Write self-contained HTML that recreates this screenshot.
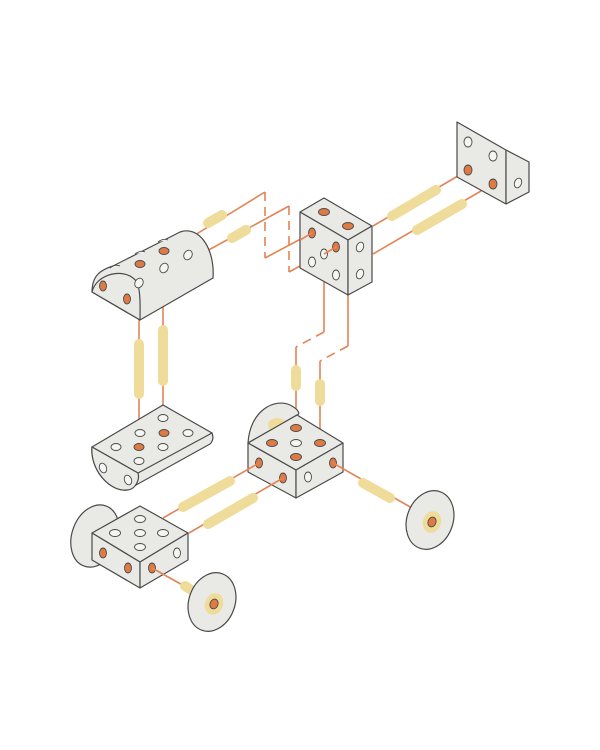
<!DOCTYPE html>
<html><head><meta charset="utf-8"><style>html,body{margin:0;padding:0;background:#fff}svg{display:block}</style></head>
<body>
<svg width="600" height="750" viewBox="0 0 600 750" xmlns="http://www.w3.org/2000/svg">
<defs>
<style>
.b{fill:#e9e9e5;stroke:#4a4a4a;stroke-width:1.2;stroke-linejoin:round}
.o{fill:#e07a45;stroke:#4a4a4a;stroke-width:0.9}
.h{fill:#f5f5f2;stroke:#4a4a4a;stroke-width:0.9}
.l{stroke:#e38455;stroke-width:1.6;fill:none}
.d{stroke:#e38455;stroke-width:1.6;fill:none;stroke-dasharray:9 6}
.p{stroke:#f0dc9a;stroke-width:10;stroke-linecap:round;fill:none}
</style>
</defs>

<line class="l" x1="373" y1="226" x2="468" y2="170"/>
<line class="l" x1="373" y1="254" x2="493" y2="184"/>
<line class="p" x1="392" y1="216" x2="436" y2="190"/>
<line class="p" x1="417" y1="230" x2="462" y2="204"/>

<line class="l" x1="190" y1="238" x2="265" y2="192"/>
<line class="d" x1="265" y1="192" x2="265" y2="258"/>
<line class="l" x1="265" y1="258" x2="312" y2="233"/>
<line class="l" x1="205" y1="252" x2="289" y2="206"/>
<line class="d" x1="289" y1="206" x2="289" y2="272"/>
<line class="l" x1="289" y1="272" x2="336" y2="246"/>
<line class="p" x1="208" y1="223" x2="222" y2="215"/>
<line class="p" x1="232" y1="238" x2="246" y2="230"/>

<polyline class="l" points="324,282 324,332"/>
<line class="d" x1="324" y1="332" x2="296" y2="347"/>
<line class="l" x1="296" y1="347" x2="296" y2="428"/>
<polyline class="l" points="348,295 348,346"/>
<line class="d" x1="348" y1="346" x2="320" y2="361"/>
<line class="l" x1="320" y1="361" x2="320" y2="443"/>
<line class="p" x1="296" y1="370" x2="296" y2="386"/>
<line class="p" x1="320" y1="384" x2="320" y2="401"/>

<line class="l" x1="139" y1="315" x2="139" y2="447"/>
<line class="l" x1="163" y1="300" x2="163" y2="433"/>
<line class="p" x1="139" y1="344" x2="139" y2="394"/>
<line class="p" x1="163" y1="330" x2="163" y2="381"/>

<polygon class="b" points="457,122 506,150 506,204 457,177"/>
<polygon class="b" points="506,150 529,162 529,192 506,204"/>
<ellipse class="h" cx="468" cy="142" rx="4" ry="5"/>
<ellipse class="h" cx="493" cy="156" rx="4" ry="5"/>
<ellipse class="o" cx="468" cy="170" rx="4" ry="5"/>
<ellipse class="o" cx="493" cy="184" rx="4" ry="5"/>
<ellipse class="h" cx="518" cy="183" rx="3.5" ry="5" transform="rotate(20 518 183)"/>

<polygon class="b" points="300,212 324,198 372,226 348,240"/>
<polygon class="b" points="300,212 348,240 348,295 300,268"/>
<polygon class="b" points="348,240 372,226 372,282 348,295"/>
<ellipse class="o" cx="324" cy="212" rx="5.5" ry="3.5"/>
<ellipse class="o" cx="348" cy="226" rx="5.5" ry="3.5"/>
<ellipse class="o" cx="312" cy="233" rx="3.5" ry="5"/>
<ellipse class="o" cx="336" cy="247" rx="3.5" ry="5"/>
<ellipse class="h" cx="312" cy="262" rx="3.5" ry="5"/>
<ellipse class="h" cx="324" cy="254" rx="3.5" ry="5"/>
<ellipse class="h" cx="336" cy="275" rx="3.5" ry="5"/>
<ellipse class="h" cx="360" cy="247" rx="3.5" ry="5" transform="rotate(20 360 247)"/>
<ellipse class="h" cx="360" cy="274" rx="3.5" ry="5" transform="rotate(20 360 274)"/>
<line class="l" x1="312" y1="233" x2="300" y2="240"/>
<line class="l" x1="336" y1="247" x2="324" y2="254"/>

<!-- half cylinder top left -->
<path class="b" d="M92,292 C92,276 100,270 113,266 L180,232 C200,225 215,250 213,278 L140,320 Z"/>
<path class="b" d="M92,292 C96,274 125,266 137,282 C141,292 140,310 140,320 Z"/>
<ellipse class="o" cx="103" cy="286" rx="3.5" ry="5"/>
<ellipse class="o" cx="127" cy="299" rx="3.5" ry="5"/>
<ellipse class="o" cx="140" cy="264" rx="5" ry="3.5"/>
<ellipse class="o" cx="164" cy="251" rx="5" ry="3.5"/>
<ellipse class="h" cx="139" cy="283" rx="4" ry="5" transform="rotate(30 139 283)"/>
<ellipse class="h" cx="164" cy="268" rx="4" ry="5" transform="rotate(30 164 268)"/>
<ellipse class="h" cx="188" cy="255" rx="4" ry="5" transform="rotate(30 188 255)"/>
<path d="M110,268 q5,-4 10,-2" class="h"/>
<path d="M135,254 q5,-4 10,-2" class="h"/>
<path d="M158,242 q5,-4 10,-2" class="h"/>

<path class="b" d="M92,447 C90,470 110,492 127,490 L210,444 C214,440 213,436 212,433 Z"/>
<polygon class="b" points="92,447 163,405 212,433 138,473"/>
<path class="b" d="M92,447 L138,473 C140,480 135,490 127,490 C110,492 90,470 92,447 Z"/>
<ellipse class="o" cx="139" cy="447" rx="5" ry="3.5"/>
<ellipse class="o" cx="164" cy="433" rx="5" ry="3.5"/>
<ellipse class="h" cx="116" cy="447" rx="5" ry="3.5"/>
<ellipse class="h" cx="140" cy="433" rx="5" ry="3.5"/>
<ellipse class="h" cx="163" cy="447" rx="5" ry="3.5"/>
<ellipse class="h" cx="188" cy="433" rx="5" ry="3.5"/>
<ellipse class="h" cx="163" cy="418" rx="5" ry="3.5"/>
<ellipse class="h" cx="139" cy="461" rx="5" ry="3.5"/>
<ellipse class="h" cx="103" cy="468" rx="3.5" ry="5" transform="rotate(-20 103 468)"/>
<ellipse class="h" cx="128" cy="480" rx="3.5" ry="5" transform="rotate(-20 128 480)"/>

<path class="b" d="M248,443 C250,410 275,398 290,405 C300,410 300,415 297,415 Z"/>
<ellipse cx="277" cy="425" rx="9" ry="7" fill="#f0dc9a"/>

<polygon class="b" points="248,443 297,415 343,443 296,470"/>
<polygon class="b" points="248,443 296,470 296,498 248,472"/>
<polygon class="b" points="296,470 343,443 343,472 296,498"/>
<ellipse class="o" cx="296" cy="428" rx="5.5" ry="3.5"/>
<ellipse class="o" cx="272" cy="443" rx="5.5" ry="3.5"/>
<ellipse class="o" cx="320" cy="443" rx="5.5" ry="3.5"/>
<ellipse class="o" cx="296" cy="457" rx="5.5" ry="3.5"/>
<ellipse class="h" cx="296" cy="443" rx="5.5" ry="3.5"/>
<ellipse class="o" cx="259" cy="463" rx="3.5" ry="5"/>
<ellipse class="o" cx="283" cy="478" rx="3.5" ry="5"/>
<ellipse class="o" cx="333" cy="463" rx="3.5" ry="5"/>
<ellipse class="h" cx="308" cy="477" rx="3.5" ry="5"/>

<line class="l" x1="333" y1="463" x2="412" y2="508"/>
<line class="p" x1="363" y1="483" x2="390" y2="498"/>
<ellipse class="b" cx="430" cy="520" rx="23" ry="30" transform="rotate(20 430 520)"/>
<ellipse cx="432" cy="522" rx="9" ry="11" fill="#f0dc9a" transform="rotate(20 432 522)"/>
<ellipse class="o" cx="432" cy="522" rx="4" ry="5" transform="rotate(20 432 522)"/>

<line class="l" x1="163" y1="518" x2="259" y2="463"/>
<line class="l" x1="189" y1="533" x2="283" y2="478"/>
<line class="p" x1="183" y1="507" x2="230" y2="481"/>
<line class="p" x1="208" y1="524" x2="253" y2="498"/>

<ellipse class="b" cx="95" cy="536" rx="23" ry="32" transform="rotate(20 95 536)"/>
<ellipse cx="100" cy="540" rx="8" ry="12" fill="#f0dc9a"/>

<polygon class="b" points="92,533 140,506 188,533 140,562"/>
<polygon class="b" points="92,533 140,562 140,588 92,560"/>
<polygon class="b" points="140,562 188,533 188,560 140,588"/>
<ellipse class="h" cx="140" cy="519" rx="5.5" ry="3.5"/>
<ellipse class="h" cx="115" cy="533" rx="5.5" ry="3.5"/>
<ellipse class="h" cx="140" cy="533" rx="5.5" ry="3.5"/>
<ellipse class="h" cx="163" cy="533" rx="5.5" ry="3.5"/>
<ellipse class="h" cx="140" cy="547" rx="5.5" ry="3.5"/>
<ellipse class="o" cx="103" cy="553" rx="3.5" ry="5"/>
<ellipse class="o" cx="128" cy="568" rx="3.5" ry="5"/>
<ellipse class="o" cx="152" cy="568" rx="3.5" ry="5"/>
<ellipse class="h" cx="177" cy="553" rx="3.5" ry="5"/>

<line class="l" x1="152" y1="568" x2="195" y2="592"/>
<line class="p" x1="185" y1="586" x2="196" y2="593"/>
<ellipse class="b" cx="212" cy="602" rx="23" ry="30" transform="rotate(20 212 602)"/>
<ellipse cx="214" cy="604" rx="9" ry="11" fill="#f0dc9a" transform="rotate(20 214 604)"/>
<ellipse class="o" cx="214" cy="604" rx="4" ry="5" transform="rotate(20 214 604)"/>
</svg>
</body></html>
